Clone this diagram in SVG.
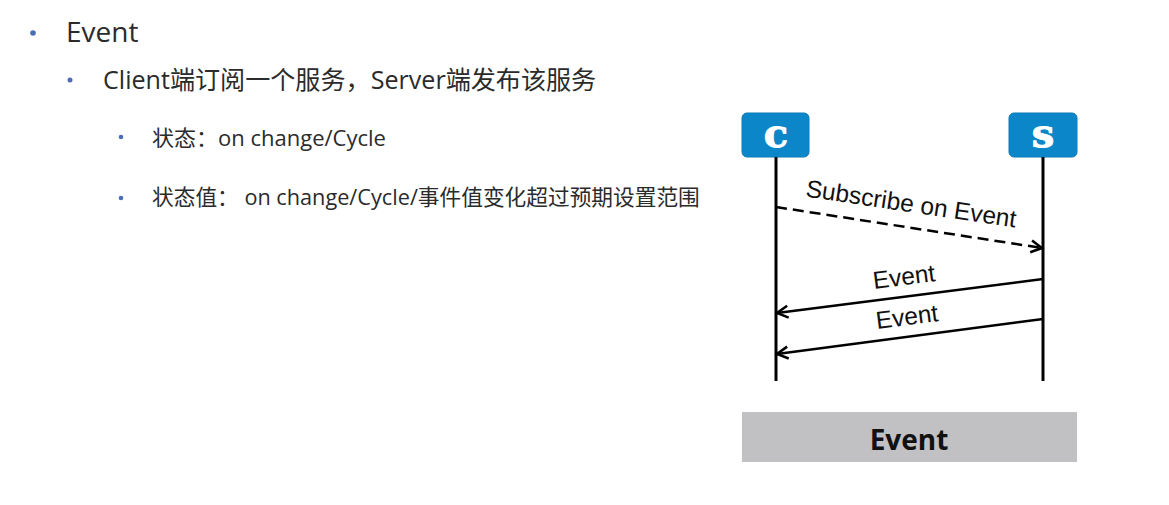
<svg xmlns="http://www.w3.org/2000/svg" width="1169" height="505" viewBox="0 0 1169 505">
<defs>
<style>
.txt{font-family:"Open Sans","Noto Sans CJK SC",sans-serif;fill:#2b2b2b}
.bul{fill:#4a6db3}
.lbl{font-family:"Liberation Sans",Arial,sans-serif;font-size:24.5px;fill:#111;text-anchor:middle}
.box{fill:#0b87c9;stroke:#0a7cb8;stroke-width:1}
.boxl{font-family:"DejaVu Serif",serif;font-weight:bold;font-size:40px;fill:#fff;text-anchor:middle;stroke:#fff;stroke-width:1}
.life{stroke:#000;stroke-width:3}
.msg{stroke:#000;stroke-width:2.5;fill:none}
</style>
<marker id="ah" markerUnits="userSpaceOnUse" markerWidth="16" markerHeight="16" viewBox="0 0 16 16" refX="13" refY="8" orient="auto">
<path d="M2,2 L13,8 L2,14" fill="none" stroke="#000" stroke-width="2.5" stroke-dasharray="none"/>
</marker>
</defs>
<rect width="1169" height="505" fill="#ffffff"/>

<g id="bullets">
<circle class="bul" cx="33" cy="33" r="2.8"/>
<text class="txt" x="66" y="42" font-size="28">Event</text>
<circle class="bul" cx="70" cy="80" r="2.5"/>
<text class="txt" x="103" y="89" font-size="25.1">Client端订阅一个服务，Server端发布该服务</text>
<circle class="bul" cx="121" cy="137" r="2.3"/>
<text class="txt" x="152" y="146" font-size="22">状态：on change/Cycle</text>
<circle class="bul" cx="121" cy="198" r="2.3"/>
<text class="txt" x="152" y="205" font-size="21.7">状态值： on change/Cycle/事件值变化超过预期设置范围</text>
</g>

<g id="node-c">
<rect class="box" x="742" y="113" width="67" height="44" rx="5"/>
<text class="boxl" x="776" y="147">c</text>
</g>
<g id="node-s">
<rect class="box" x="1009" y="113" width="68" height="44" rx="5"/>
<text class="boxl" x="1043" y="147">s</text>
</g>

<g id="connectors">
<line class="life" x1="776" y1="157" x2="776" y2="381"/>
<line class="life" x1="1043" y1="157" x2="1043" y2="381"/>
<line class="msg" x1="776" y1="207" x2="1042" y2="248" stroke-dasharray="11,6" marker-end="url(#ah)"/>
<line class="msg" x1="1043" y1="279" x2="777" y2="313" marker-end="url(#ah)"/>
<line class="msg" x1="1043" y1="319" x2="777" y2="354" marker-end="url(#ah)"/>
<text class="lbl" x="910" y="212" transform="rotate(8.4 910 212)">Subscribe on Event</text>
<text class="lbl" x="905" y="285" transform="rotate(-7.3 905 285)">Event</text>
<text class="lbl" x="908" y="325" transform="rotate(-7.3 908 325)">Event</text>
</g>

<g id="caption">
<rect x="742" y="412" width="335" height="50" fill="#c1c0c2"/>
<text x="909" y="450" font-family="'Open Sans',sans-serif" font-weight="bold" font-size="28" fill="#111" text-anchor="middle">Event</text>
</g>
</svg>
